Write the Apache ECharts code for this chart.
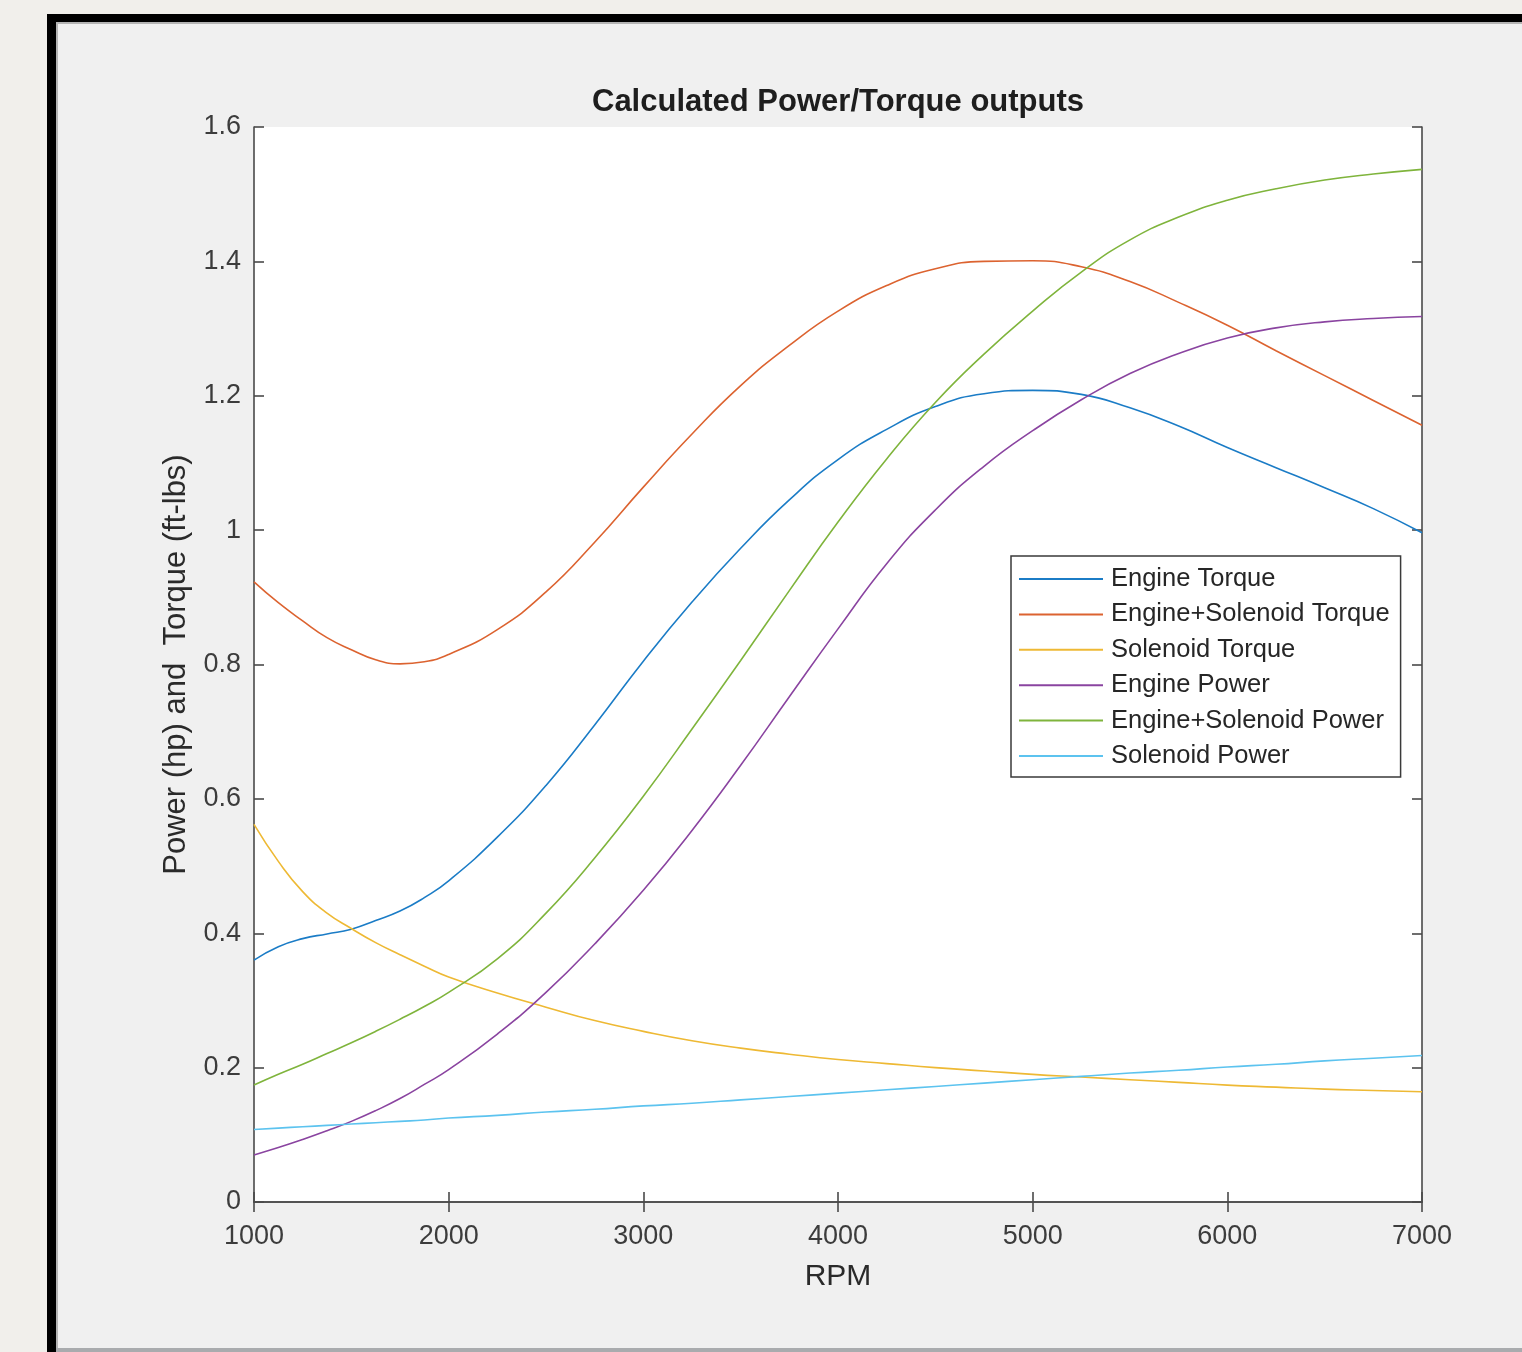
<!DOCTYPE html>
<html>
<head>
<meta charset="utf-8">
<script src="https://cdn.jsdelivr.net/npm/echarts@6/dist/echarts.min.js"></script>
<style>
  html, body { margin: 0; padding: 0; background: #f1efeb; width: 1522px; height: 1352px; overflow: hidden; }
  #frame { position: absolute; left: 47px; top: 14px; width: 1480px; height: 1338px; background: #f0f0f0;
           border-left: 9px solid #000; border-top: 8px solid #000; box-sizing: border-box;
           box-shadow: inset 2px 2px 0 #b4b4b4; }
  #bottomline { position: absolute; left: 56px; top: 1348px; width: 1466px; height: 4px; background: #a9abae; }
  #chart { position: absolute; left: 0; top: 0; width: 1522px; height: 1352px; }
</style>
</head>
<body>
<div id="frame"></div>
<div id="bottomline"></div>
<div id="chart"></div>
<script>
// ---- data ----
const rpm = [1000,1125,1250,1375,1500,1625,1750,1875,2000,2250,2500,2750,3000,3250,3500,3750,4000,4250,4500,4750,5000,5250,5500,5750,6000,6250,6500,6750,7000];

const engineTorque         = [0.360,0.380,0.392,0.399,0.406,0.419,0.433,0.453,0.478,0.543,0.620,0.710,0.805,0.893,0.973,1.045,1.105,1.150,1.184,1.203,1.208,1.202,1.182,1.155,1.123,1.093,1.063,1.032,0.996];
const engineSolenoidTorque = [0.923,0.892,0.865,0.840,0.822,0.807,0.801,0.804,0.815,0.852,0.908,0.982,1.064,1.143,1.215,1.275,1.326,1.364,1.389,1.400,1.401,1.392,1.370,1.339,1.305,1.267,1.230,1.193,1.156];
const solenoidTorque       = [0.562,0.507,0.462,0.430,0.407,0.386,0.368,0.351,0.335,0.311,0.290,0.270,0.254,0.240,0.229,0.220,0.212,0.206,0.200,0.195,0.190,0.186,0.182,0.178,0.174,0.171,0.168,0.166,0.164];
const enginePower          = [0.070,0.081,0.093,0.106,0.120,0.136,0.154,0.175,0.197,0.250,0.312,0.384,0.464,0.553,0.650,0.752,0.853,0.950,1.030,1.095,1.148,1.194,1.233,1.263,1.286,1.301,1.310,1.315,1.318];
const engineSolenoidPower  = [0.174,0.190,0.205,0.221,0.237,0.254,0.272,0.291,0.312,0.362,0.430,0.512,0.604,0.704,0.806,0.910,1.012,1.106,1.190,1.262,1.326,1.384,1.432,1.466,1.491,1.508,1.521,1.530,1.537];
const solenoidPower        = [0.108,0.110,0.112,0.114,0.116,0.118,0.120,0.122,0.125,0.129,0.134,0.138,0.143,0.147,0.152,0.157,0.162,0.167,0.172,0.177,0.182,0.187,0.192,0.196,0.201,0.205,0.210,0.214,0.218];

const xTickLabels = ['1000','2000','3000','4000','5000','6000','7000'];
const seriesNames = ['Engine Torque','Engine+Solenoid Torque','Solenoid Torque','Engine Power','Engine+Solenoid Power','Solenoid Power'];
const seriesColors = ['#1b7cc6','#dc6330','#eeb934','#8a44a0','#7fb43c','#5cc3ef'];
const seriesValues = [engineTorque, engineSolenoidTorque, solenoidTorque, enginePower, engineSolenoidPower, solenoidPower];

const titleText = 'Calculated Power/Torque outputs';
const xName = 'RPM';
const yName = 'Power (hp) and  Torque (ft-lbs)';

// ---- chart ----
const FONT = '"Liberation Sans", Arial, Helvetica, sans-serif';
const axisColor = '#4a4a4a';
const labelColor = '#3c3c3c';

const chart = echarts.init(document.getElementById('chart'), null, {renderer: 'canvas'});

const commonAxisLine = { show: true, lineStyle: { color: axisColor, width: 1.6 } };
const commonTick = { show: true, inside: true, length: 10, lineStyle: { color: axisColor, width: 1.6 } };

chart.setOption({
  animation: false,
  backgroundColor: 'transparent',
  title: {
    text: titleText,
    left: 838,
    top: 87,
    padding: 0,
    textAlign: 'center',
    textStyle: { fontFamily: FONT, fontSize: 31, fontWeight: 'bold', color: '#1e1e1e' }
  },
  grid: { left: 254, top: 127, width: 1168, height: 1075, backgroundColor: '#ffffff', show: true, borderWidth: 0 },
  legend: {
    orient: 'vertical',
    left: 1011,
    top: 556,
    padding: [10, 11, 8, 8],
    backgroundColor: '#ffffff',
    borderColor: '#3a3a3a',
    borderWidth: 1.5,
    itemWidth: 84,
    itemHeight: 2,
    itemGap: 9.4,
    icon: 'rect',
    data: seriesNames,
    textStyle: { fontFamily: FONT, fontSize: 25.5, color: '#262626', lineHeight: 24, padding: [0, 0, 0, 3] }
  },
  xAxis: [
    {
      type: 'value', min: 1000, max: 7000, interval: 1000,
      name: xName, nameLocation: 'middle', nameGap: 60,
      nameTextStyle: { fontFamily: FONT, fontSize: 30, color: '#2a2a2a' },
      axisLine: commonAxisLine, axisTick: commonTick,
      axisLabel: { fontFamily: FONT, fontSize: 27, color: labelColor, margin: 21,
                   formatter: v => xTickLabels[Math.round((v - 1000) / 1000)] },
      splitLine: { show: false }
    },
    {
      type: 'value', min: 1000, max: 7000, interval: 1000, position: 'top',
      axisLine: commonAxisLine, axisTick: commonTick,
      axisLabel: { show: false }, splitLine: { show: false }
    }
  ],
  yAxis: [
    {
      type: 'value', min: 0, max: 1.6, interval: 0.2,
      name: yName, nameLocation: 'middle', nameGap: 62, nameRotate: 90,
      nameTextStyle: { fontFamily: FONT, fontSize: 31, color: '#2a2a2a' },
      axisLine: commonAxisLine, axisTick: commonTick,
      axisLabel: { fontFamily: FONT, fontSize: 27, color: labelColor, margin: 13 },
      splitLine: { show: false }
    },
    {
      type: 'value', min: 0, max: 1.6, interval: 0.2, position: 'right',
      axisLine: commonAxisLine, axisTick: commonTick,
      axisLabel: { show: false }, splitLine: { show: false }
    }
  ],
  series: seriesNames.map((name, i) => ({
    name: name,
    type: 'line',
    xAxisIndex: 0,
    yAxisIndex: 0,
    smooth: 0.5,
    showSymbol: false,
    symbol: 'none',
    color: seriesColors[i],
    lineStyle: { color: seriesColors[i], width: 1.6 },
    data: rpm.map((r, j) => [r, seriesValues[i][j]])
  }))
});
</script>
</body>
</html>
